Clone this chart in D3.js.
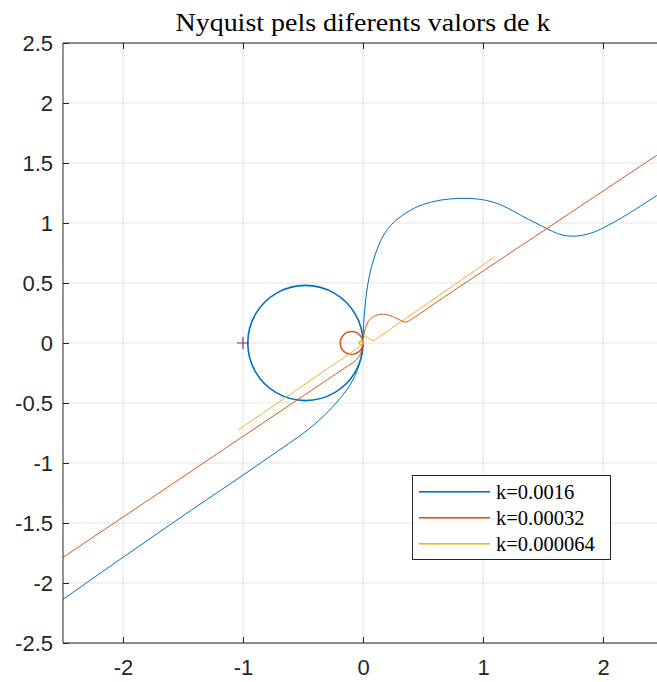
<!DOCTYPE html>
<html>
<head>
<meta charset="utf-8">
<script src="https://cdn.jsdelivr.net/npm/d3@7"></script>
<style>
  body { margin: 0; background: #fff; }
  svg { display: block; }
</style>
</head>
<body>
<div id="chart"></div>
<script>
// Ticks
const xTicks = [-2, -1, 0, 1, 2];
const yTicks = [-2.5, -2, -1.5, -1, -0.5, 0, 0.5, 1, 1.5, 2, 2.5];

// Series labels
const seriesNames = ['k=0.0016', 'k=0.00032', 'k=0.000064'];
const seriesColors = ['#0072BD', '#D95319', '#EDB120'];

// k=0.0016 (blue)
const blueLower = [[-2.5,-2.136],[-2,-1.786],[-1.5,-1.44],[-1,-1.101],[-0.7,-0.894],[-0.55,-0.79],
  [-0.45,-0.715],[-0.35,-0.63],[-0.26,-0.54],[-0.19,-0.46],[-0.13,-0.385],[-0.08,-0.3],[-0.045,-0.22],
  [-0.02,-0.14],[-0.006,-0.07],[0,0]];
const blueUpper = [[0,0],[0.003,0.1],[0.008,0.2],[0.016,0.3],[0.027,0.4],[0.042,0.5],[0.062,0.6],
  [0.09,0.7],[0.125,0.8],[0.172,0.9],[0.24,0.99],[0.33,1.065],[0.44,1.13],[0.57,1.175],[0.72,1.2],
  [0.89,1.205],[1.02,1.19],[1.14,1.155],[1.26,1.095],[1.38,1.03],[1.49,0.975],[1.58,0.93],[1.66,0.9],
  [1.75,0.89],[1.84,0.9],[1.94,0.93],[2.05,0.985],[2.2,1.07],[2.45,1.23]];
const blueLoop = [[0,0],[-0.064,0.24],[-0.24,0.416],[-0.48,0.48],[-0.72,0.416],[-0.896,0.24],[-0.96,0],
  [-0.896,-0.24],[-0.72,-0.416],[-0.48,-0.48],[-0.24,-0.416],[-0.064,-0.24]];

// k=0.00032 (orange)
const orangeLower = [[-2.5,-1.786],[-1.5,-1.115],[-0.858,-0.683],[-0.4,-0.375],[-0.15,-0.207],
  [-0.06,-0.145],[-0.025,-0.1],[-0.008,-0.05],[0,0]];
const orangeUpper = [[0,0],[0.006,0.06],[0.02,0.12],[0.045,0.18],[0.08,0.215],[0.128,0.236],[0.17,0.24],
  [0.22,0.23],[0.27,0.21],[0.32,0.186],[0.364,0.176],[0.42,0.208],[0.64,0.358],[2.45,1.565]];
const orangeLoop = [[0,0],[-0.028,0.067],[-0.095,0.095],[-0.162,0.067],[-0.19,0],[-0.162,-0.067],
  [-0.095,-0.095],[-0.028,-0.067]];

// k=0.000064 (yellow)
const yellowLower = [[-1.04,-0.725],[-0.5,-0.355],[-0.1,-0.08],[-0.03,-0.03],[0,0]];
const yellowUpper = [[0,0],[0.006,0.035],[0.017,0.056],[0.03,0.05],[0.05,0.035],[0.07,0.023],
  [0.086,0.02],[0.183,0.085],[1.1,0.72]];
const yellowLoop = [[0,0],[-0.017,0.017],[-0.034,0],[-0.017,-0.017]];

// Critical point
const criticalPoint = [[-1, 0]];

const width = 657, height = 682;
const margin = { top: 43, left: 63 };
const plotW = 600, plotH = 600;

const svg = d3.select('#chart').append('svg')
  .attr('width', width)
  .attr('height', height)
  .style('font-family', '"Liberation Sans", Arial, sans-serif');

const x = d3.scaleLinear().domain([-2.5, 2.5]).range([margin.left, margin.left + plotW]);
const y = d3.scaleLinear().domain([-2.5, 2.5]).range([margin.top + plotH, margin.top]);

svg.append('defs').append('clipPath').attr('id', 'clip')
  .append('rect')
  .attr('x', margin.left).attr('y', margin.top)
  .attr('width', plotW).attr('height', plotH);

// Grid
const grid = svg.append('g').attr('class', 'grid');
grid.selectAll('line.gx').data(xTicks).enter().append('line')
  .attr('x1', d => x(d)).attr('x2', d => x(d))
  .attr('y1', margin.top).attr('y2', margin.top + plotH)
  .style('stroke', '#e3e3e3').style('stroke-width', 1);
grid.selectAll('line.gy').data(yTicks).enter().append('line')
  .attr('x1', margin.left).attr('x2', margin.left + plotW)
  .attr('y1', d => y(d)).attr('y2', d => y(d))
  .style('stroke', '#e3e3e3').style('stroke-width', 1);

// Curves
const line = d3.line().x(d => x(d[0])).y(d => y(d[1])).curve(d3.curveCatmullRom.alpha(0.5));
const loop = d3.line().x(d => x(d[0])).y(d => y(d[1])).curve(d3.curveCatmullRomClosed.alpha(0.5));

const curves = [
  { data: blueLower, color: seriesColors[0], gen: line, w: 1 },
  { data: blueUpper, color: seriesColors[0], gen: line, w: 1 },
  { data: blueLoop, color: seriesColors[0], gen: loop, w: 1.6 },
  { data: orangeLower, color: seriesColors[1], gen: line, w: 1 },
  { data: orangeUpper, color: seriesColors[1], gen: line, w: 1 },
  { data: orangeLoop, color: seriesColors[1], gen: loop, w: 1.5 },
  { data: yellowLower, color: seriesColors[2], gen: line, w: 1 },
  { data: yellowUpper, color: seriesColors[2], gen: line, w: 1 },
  { data: yellowLoop, color: seriesColors[2], gen: loop, w: 1.4 }
];

const plot = svg.append('g').attr('clip-path', 'url(#clip)');
plot.selectAll('path.curve').data(curves).enter().append('path')
  .attr('class', 'curve')
  .attr('d', d => d.gen(d.data))
  .style('fill', 'none')
  .style('stroke', d => d.color)
  .style('stroke-width', d => d.w);

// "+" marker at -1
plot.selectAll('path.crit').data(criticalPoint).enter().append('path')
  .attr('class', 'crit')
  .attr('d', d => `M${x(d[0]) - 6},${y(d[1])}H${x(d[0]) + 6}M${x(d[0])},${y(d[1]) - 6}V${y(d[1]) + 6}`)
  .style('stroke', '#7E2F8E')
  .style('stroke-width', 1.2);

// Axes (ticks inward, MATLAB style)
const axisColor = '#262626';
const fmt = d => String(d);  // plain hyphen minus, like MATLAB
const xAxisB = svg.append('g').attr('transform', `translate(0,${margin.top + plotH})`)
  .call(d3.axisBottom(x).tickValues(xTicks).tickSize(-6).tickPadding(16).tickFormat(fmt));
const xAxisT = svg.append('g').attr('transform', `translate(0,${margin.top})`)
  .call(d3.axisTop(x).tickValues(xTicks).tickSize(-6).tickFormat(''));
const yAxisL = svg.append('g').attr('transform', `translate(${margin.left},0)`)
  .call(d3.axisLeft(y).tickValues(yTicks).tickSize(-6).tickPadding(10).tickFormat(fmt));

[xAxisB, xAxisT, yAxisL].forEach(a => {
  a.select('.domain').style('stroke', axisColor).style('stroke-width', 1);
  a.selectAll('.tick line').style('stroke', axisColor).style('stroke-width', 1);
  a.selectAll('.tick text')
    .style('fill', axisColor)
    .style('font-size', '22px')
    .style('font-family', '"Liberation Sans", Arial, sans-serif');
});
xAxisB.selectAll('.domain').attr('d', `M${margin.left},0H${margin.left + plotW}`);
xAxisT.selectAll('.domain').attr('d', `M${margin.left},0H${margin.left + plotW}`);
yAxisL.selectAll('.domain').attr('d', `M0,${margin.top}V${margin.top + plotH}`);

// Title
svg.append('text')
  .attr('x', x(0))
  .attr('y', 31)
  .attr('textLength', 375)
  .attr('lengthAdjust', 'spacingAndGlyphs')
  .style('text-anchor', 'middle')
  .style('font-family', '"Liberation Serif", "DejaVu Serif", serif')
  .style('font-size', '25px')
  .style('fill', '#000')
  .text('Nyquist pels diferents valors de k');

// Legend
const legendItems = seriesNames.map((name, i) => ({ name: name, color: seriesColors[i], row: i }));
const legend = svg.append('g').attr('class', 'legend');
legend.append('rect')
  .attr('x', 412.5).attr('y', 475.5)
  .attr('width', 198).attr('height', 84)
  .style('fill', '#fff')
  .style('stroke', axisColor)
  .style('stroke-width', 1);
// sample strokes, as thin filled bars
legend.selectAll('rect.sample').data(legendItems).enter().append('rect')
  .attr('class', 'sample')
  .attr('x', 419).attr('y', d => 491 + d.row * 26)
  .attr('width', 71).attr('height', 1.6)
  .style('fill', d => d.color);
legend.selectAll('text.label').data(legendItems).enter().append('text')
  .attr('class', 'label')
  .attr('x', 496).attr('y', d => 498.5 + d.row * 26)
  .style('font-family', '"Liberation Serif", "DejaVu Serif", serif')
  .style('font-size', '20.5px')
  .style('fill', '#000')
  .text(d => d.name);
</script>
</body>
</html>
